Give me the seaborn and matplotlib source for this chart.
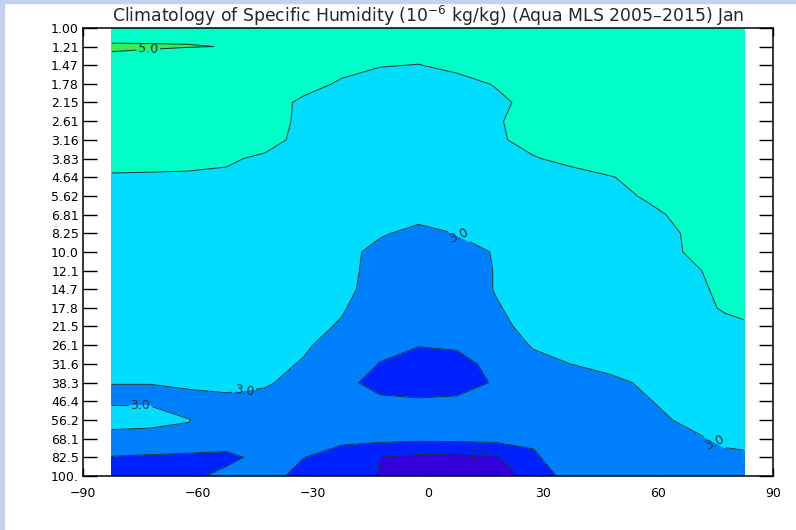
import numpy as np
import matplotlib
matplotlib.use("Agg")
import matplotlib.pyplot as plt
import seaborn as sns
from matplotlib.patches import Rectangle

sns.set_style("ticks")
plt.rcParams["font.family"] = ["DejaVu Sans"]

# latitude columns (deg) and MLS pressure levels (hPa)
lats = [-82.5, -72.5, -62.5, -52.5, -42.5, -32.5, -22.5, -12.5, -2.5,
        7.5, 17.5, 27.5, 37.5, 47.5, 57.5, 67.5, 77.5, 82.5]
pressures = [1.00, 1.21, 1.47, 1.78, 2.15, 2.61, 3.16, 3.83, 4.64, 5.62,
             6.81, 8.25, 10.0, 12.1, 14.7, 17.8, 21.5, 26.1, 31.6, 38.3,
             46.4, 56.2, 68.1, 82.5, 100.0]
p_labels = ["1.00", "1.21", "1.47", "1.78", "2.15", "2.61", "3.16", "3.83",
            "4.64", "5.62", "6.81", "8.25", "10.0", "12.1", "14.7", "17.8",
            "21.5", "26.1", "31.6", "38.3", "46.4", "56.2", "68.1", "82.5",
            "100."]

# specific humidity (1e-6 kg/kg), one list per latitude, top (1 hPa) to bottom (100 hPa)
q_s82 = [4.64, 5.08, 4.78, 4.64, 4.51, 4.37, 4.23, 4.10, 3.97, 3.89, 3.80, 3.71, 3.62,
         3.53, 3.45, 3.36, 3.27, 3.18, 3.09, 3.005, 2.95, 3.18, 2.83, 2.48, 2.30]
q_s72 = [4.69, 5.06, 4.66, 4.54, 4.43, 4.31, 4.20, 4.08, 3.97, 3.89, 3.80, 3.71, 3.62,
         3.53, 3.45, 3.36, 3.27, 3.18, 3.09, 3.005, 2.95, 3.15, 2.81, 2.45, 2.30]
q_s62 = [4.85, 5.02, 4.52, 4.43, 4.34, 4.25, 4.16, 4.06, 3.97, 3.89, 3.80, 3.71, 3.63,
         3.54, 3.46, 3.37, 3.29, 3.20, 3.12, 3.03, 2.945, 3.004, 2.974, 2.37, 2.40]
q_s52 = [4.85, 4.99, 4.55, 4.45, 4.34, 4.24, 4.14, 4.04, 3.95, 3.87, 3.78, 3.70, 3.62,
         3.54, 3.46, 3.37, 3.29, 3.21, 3.13, 3.045, 2.963, 2.953, 2.75, 2.39, 2.62]
q_s42 = [4.75, 4.70, 4.55, 4.45, 4.35, 4.25, 4.12, 3.946, 3.89, 3.81, 3.735, 3.655, 3.576,
         3.497, 3.418, 3.339, 3.259, 3.18, 3.101, 3.022, 2.943, 2.90, 2.80, 2.643, 2.65]
q_s32 = [4.70, 4.60, 4.45, 4.26, 3.86, 3.88, 3.90, 3.78, 3.707, 3.633, 3.56, 3.487, 3.413,
         3.34, 3.267, 3.193, 3.12, 3.047, 2.974, 2.934, 2.88, 2.80, 2.70, 2.51, 2.367]
q_s22 = [4.60, 4.45, 4.22, 3.90, 3.828, 3.756, 3.684, 3.612, 3.54, 3.468, 3.395, 3.323, 3.251,
         3.179, 3.107, 3.035, 2.962, 2.85, 2.70, 2.65, 2.68, 2.66, 2.60, 2.314, 2.20]
q_s12 = [4.40, 4.20, 4.02, 3.80, 3.70, 3.60, 3.50, 3.41, 3.33, 3.25, 3.16, 3.08, 2.768,
         2.79, 2.825, 2.766, 2.72, 2.60, 2.487, 2.31, 2.602, 2.62, 2.625, 2.001, 1.98]
q_s02 = [4.35, 4.20, 3.985, 3.85, 3.75, 3.66, 3.58, 3.50, 3.42, 3.32, 3.22, 2.80, 2.75,
         2.72, 2.70, 2.67, 2.60, 2.52, 2.27, 2.30, 2.544, 2.60, 2.60, 1.90, 1.80]
q_n07 = [4.45, 4.30, 4.10, 3.856, 3.75, 3.644, 3.538, 3.433, 3.327, 3.221, 3.115, 3.01, 2.90,
         2.80, 2.75, 2.72, 2.65, 2.55, 2.365, 2.35, 2.561, 2.62, 2.62, 1.86, 1.80]
q_n17 = [4.60, 4.45, 4.25, 4.022, 3.906, 3.92, 3.88, 3.70, 3.60, 3.45, 3.30, 3.15, 3.016,
         3.013, 3.016, 2.963, 2.90, 2.85, 2.615, 2.53, 2.60, 2.62, 2.643, 1.929, 1.85]
q_n27 = [4.55, 4.45, 4.35, 4.25, 4.12, 4.284, 4.244, 3.95, 3.85, 3.75, 3.65, 3.55, 3.45,
         3.35, 3.25, 3.158, 3.113, 3.02, 2.929, 2.85, 2.80, 2.75, 2.537, 2.47, 2.118]
q_n37 = [4.60, 4.55, 4.50, 4.45, 4.40, 4.35, 4.28, 4.188, 3.761, 3.685, 3.61, 3.534, 3.458,
         3.382, 3.306, 3.23, 3.155, 3.079, 3.003, 2.853, 2.80, 2.75, 2.70, 2.628, 2.755]
q_n47 = [4.60, 4.55, 4.50, 4.45, 4.40, 4.30, 4.20, 4.10, 3.991, 3.90, 3.80, 3.72, 3.63,
         3.55, 3.46, 3.37, 3.28, 3.18, 3.08, 2.937, 2.85, 2.80, 2.75, 2.70, 2.70]
q_n57 = [4.60, 4.55, 4.50, 4.45, 4.40, 4.32, 4.24, 4.15, 4.055, 4.041, 3.93, 3.85, 3.75,
         3.66, 3.57, 3.48, 3.39, 3.30, 3.20, 3.046, 2.988, 2.90, 2.85, 2.80, 2.78]
q_n67 = [4.60, 4.55, 4.50, 4.45, 4.40, 4.35, 4.28, 4.20, 4.14, 4.10, 4.082, 4.03, 4.028,
         3.895, 3.80, 3.72, 3.60, 3.48, 3.36, 3.22, 3.097, 3.059, 2.915, 2.85, 2.80]
q_n77 = [4.65, 4.60, 4.55, 4.50, 4.45, 4.40, 4.35, 4.30, 4.27, 4.24, 4.22, 4.20, 4.18,
         4.164, 4.139, 4.074, 3.81, 3.60, 3.50, 3.40, 3.30, 3.20, 3.072, 2.922, 2.85]
q_n82 = [4.65, 4.60, 4.55, 4.50, 4.45, 4.40, 4.35, 4.30, 4.27, 4.24, 4.22, 4.20, 4.15,
         4.12, 4.08, 4.04, 3.978, 3.70, 3.55, 3.40, 3.30, 3.20, 3.05, 2.97, 2.90]

levels = [2.0, 2.5, 3.0, 4.0, 5.0]
labelled = [2.0, 3.0, 5.0]
unlabelled = [2.5, 4.0]
fill_colors = ["#3300dd", "#0022ff", "#0080ff", "#00ddff", "#00ffc6", "#33ee55"]

# where the contour labels sit (lat, pressure)
label_lat = [-73, 8.5, -48, -75, 13, 75]
label_p = [1.21, 8.2, 41.0, 46.0, 76.0, 70.0]

#%%
q = np.array([q_s82, q_s72, q_s62, q_s52, q_s42, q_s32, q_s22, q_s12, q_s02,
              q_n07, q_n17, q_n27, q_n37, q_n47, q_n57, q_n67, q_n77, q_n82]).T
logp = np.log10(pressures)

fig = plt.figure(figsize=(7.96, 5.30), dpi=100)
ax = fig.add_axes([83 / 796, 54 / 530, 690 / 796, 448 / 530])
ax.set_facecolor("white")

line_col = "#1a3338"
ax.contourf(lats, logp, q, levels=[0.0] + levels + [10.0], colors=fill_colors)
ax.contour(lats, logp, q, levels=unlabelled, colors=line_col, linewidths=0.7)
cs = ax.contour(lats, logp, q, levels=labelled, colors=line_col, linewidths=0.7)
ax.clabel(cs, fmt="%.1f", fontsize=9, colors=line_col,
          inline=True, inline_spacing=3,
          manual=list(zip(label_lat, np.log10(label_p))))

ax.set_xlim(-90, 90)
ax.set_ylim(2, 0)
ax.set_xticks(range(-90, 91, 30))
ax.set_xticklabels([str(v).replace("-", "\u2212") for v in range(-90, 91, 30)])
ax.set_yticks(logp)
ax.set_yticklabels(p_labels)

ax.tick_params(axis="y", direction="in", length=10, width=1.0, left=True, right=True,
               labelsize=9, pad=3, colors="black")
ax.tick_params(axis="x", direction="in", length=5.8, width=1.0, top=True, bottom=True,
               labelsize=9, pad=8, colors="black")
ax.minorticks_off()
for s in ax.spines.values():
    s.set_linewidth(1.1)
    s.set_color("black")

ax.set_title("Climatology of Specific Humidity (10$^{-6}$ kg/kg) (Aqua MLS 2005\u20132015) Jan",
             fontsize=12.4, pad=4)

# light blue screenshot border
fig.add_artist(Rectangle((0, 1 - 3 / 530), 1, 3 / 530, transform=fig.transFigure,
                         color="#c4d2f0", zorder=0))
fig.add_artist(Rectangle((0, 0), 4 / 796, 1, transform=fig.transFigure,
                         color="#c4d2f0", zorder=0))

fig.savefig("out.png", dpi=100)
